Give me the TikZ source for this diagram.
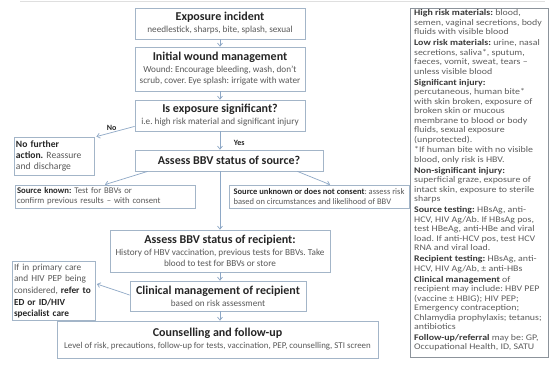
\documentclass[tikz,border=0pt]{standalone}
\usepackage{fontspec}
\setmainfont{Carlito}
\newfontfamily\legfont{Carlito}[FakeStretch=1.15,Ligatures=TeX]
\usetikzlibrary{arrows.meta,calc}
\frenchspacing
\definecolor{boxline}{HTML}{A3B5C8}
\definecolor{arrowc}{HTML}{8EA8C6}
\definecolor{titlec}{HTML}{262626}
\definecolor{subc}{HTML}{595959}
\definecolor{legline}{HTML}{8C939B}
\definecolor{legtext}{HTML}{5E5E5E}
\definecolor{legbold}{HTML}{3A3A3A}
\newcommand\flowsub{\fontsize{9.2}{11}\selectfont}
\newcommand\flowtitle[1]{{\fontsize{12}{14}\selectfont\bfseries\color{titlec}#1}}
\newcommand\flowbold[1]{\textbf{\color{titlec}#1}}
\newcommand\legb[1]{\textbf{\color{legbold}#1}}
\tikzset{
  flowbox/.style={draw=boxline, line width=0.8pt, fill=white, inner sep=1.5pt,
    align=center, text=subc, font=\flowsub},
  sidebox/.style={draw=boxline, line width=0.8pt, fill=white, inner sep=2pt,
    align=left, text=subc},
  conn/.style={draw=arrowc, line width=0.7pt, -{Straight Barb[length=3pt,width=5pt]}},
  connlabel/.style={font=\fontsize{8}{9}\selectfont\bfseries, text=titlec, inner sep=1.5pt}
}
\begin{document}
\begin{tikzpicture}[x=1pt,y=-1pt]
\useasboundingbox[fill=white] (0,0) rectangle (550,365);
\draw[gray!25, line width=0.6pt] (20,1) -- (545,1);

% main flow
\node[flowbox, minimum width=170pt, minimum height=31pt] (ei) at (220,23.5)
  {\flowtitle{Exposure incident}\\[1pt]needlestick, sharps, bite, splash, sexual};
\node[flowbox, minimum width=170pt, minimum height=44pt] (iwm) at (220,69)
  {\flowtitle{Initial wound management}\\[1pt]Wound: Encourage bleeding, wash, don't\\scrub, cover. Eye splash: irrigate with water};
\node[flowbox, minimum width=170pt, minimum height=31pt] (ies) at (220,115.5)
  {\flowtitle{Is exposure significant?}\\[1pt]i.e. high risk material and significant injury};
\node[sidebox, font=\fontsize{9.6}{10.6}\selectfont, text width=76pt,
  minimum width=80pt, minimum height=38pt] (nfa) at (54,156)
  {\flowbold{No further}\\\flowbold{action.} Reassure\\and discharge};
\node[flowbox, minimum width=188pt, minimum height=21pt] (src) at (229,160.5)
  {\flowtitle{Assess BBV status of source?}};
\node[sidebox, font=\fontsize{8.7}{10}\selectfont, text width=176pt,
  minimum width=180pt, minimum height=23pt] (sk) at (105,196.5)
  {\flowbold{Source known:} Test for BBVs or\\confirm previous results -- with consent};
\node[sidebox, inner sep=1.5pt, font=\fontsize{8.5}{10}\selectfont,
  minimum width=180pt, minimum height=23pt] (su) at (319,196.5)
  {\flowbold{Source unknown or does not consent}: assess risk\\based on circumstances and likelihood of BBV};
\node[flowbox, minimum width=220pt, minimum height=42pt] (rec) at (220,251)
  {\flowtitle{Assess BBV status of recipient:}\\[1pt]History of HBV vaccination, previous tests for BBVs. Take\\blood to test for BBVs or store};
\node[flowbox, minimum width=176pt, minimum height=30pt] (cm) at (218,296)
  {\flowtitle{Clinical management of recipient}\\[1pt]based on risk assessment};
\node[sidebox, font=\fontsize{9.3}{11.7}\selectfont, text width=79pt,
  minimum width=83pt, minimum height=56pt] (pc) at (53.5,291)
  {If in primary care\\and HIV PEP being\\considered, \flowbold{refer to}\\\flowbold{ED or ID/HIV}\\\flowbold{specialist care}};
\node[flowbox, minimum width=321pt, minimum height=37pt] (cf) at (217.5,339.5)
  {\flowtitle{Counselling and follow-up}\\[1pt]{\fontsize{8.9}{11}\selectfont Level of risk, precautions, follow-up for tests, vaccination, PEP, counselling, STI screen}};

% legend
\node[draw=legline, line width=0.6pt, minimum width=138pt, minimum height=349pt,
  inner sep=0pt, anchor=north west] (legbox) at (410,8) {};
\node[anchor=north west, inner sep=0pt, align=left, text=legtext,
  font=\legfont\fontsize{8.6}{9.5}\selectfont] (leg) at (414,9.5)
  {\legb{High risk materials:} blood,\\
   semen, vaginal secretions, body\\
   fluids with visible blood\\[1.4pt]
   \legb{Low risk materials:} urine, nasal\\
   secretions, saliva*, sputum,\\
   faeces, vomit, sweat, tears –\\
   unless visible blood\\[1.4pt]
   \legb{Significant injury:}\\
   percutaneous, human bite*\\
   with skin broken, exposure of\\
   broken skin or mucous\\
   membrane to blood or body\\
   fluids, sexual exposure\\
   (unprotected).\\[1.4pt]
   *If human bite with no visible\\
   blood, only risk is HBV.\\[1.4pt]
   \legb{Non-significant injury:}\\
   superficial graze, exposure of\\
   intact skin, exposure to sterile\\
   sharps\\[1.4pt]
   \legb{Source testing:} HBsAg, anti-\\
   HCV, HIV Ag/Ab. If HBsAg pos,\\
   test HBeAg, anti-HBe and viral\\
   load. If anti-HCV pos, test HCV\\
   RNA and viral load.\\[1.4pt]
   \legb{Recipient testing:} HBsAg, anti-\\
   HCV, HIV Ag/Ab, ± anti-HBs\\[1.4pt]
   \legb{Clinical management} of\\
   recipient may include: HBV PEP\\
   (vaccine ± HBIG); HIV PEP;\\
   Emergency contraception;\\
   Chlamydia prophylaxis; tetanus;\\
   antibiotics\\[1.4pt]
   \legb{Follow-up/referral} may be: GP,\\
   Occupational Health, ID, SATU};

% connectors
\draw[conn] (ei) -- (iwm);
\draw[conn] (iwm) -- (ies);
\draw[conn] ($(ies.south west)+(0,-5)$) -- ($(nfa.north east)+(2,0)$)
  node[connlabel, pos=0.6, above] (nolab) {No};
\draw[conn] (ies) -- (ies |- src.north)
  node[connlabel, midway, right, xshift=12pt, yshift=-2pt] (yeslab) {Yes};
\draw[conn] ($(src.south west)+(13,0)$) -- (sk.north);
\draw[conn] ($(src.south east)+(-26,0)$) -- ($(su.north)+(11,0)$);
\draw[conn] (rec.north |- src.south) -- (rec.north);
\draw[conn] (rec) -- (rec |- cm.north);
\draw[conn] ($(cm.west)+(0,-1)$) -- ($(pc.east)+(1.5,-7)$);
\draw[conn] (rec.south |- cm.south) -- (rec.south |- cf.north);
\end{tikzpicture}
\end{document}
